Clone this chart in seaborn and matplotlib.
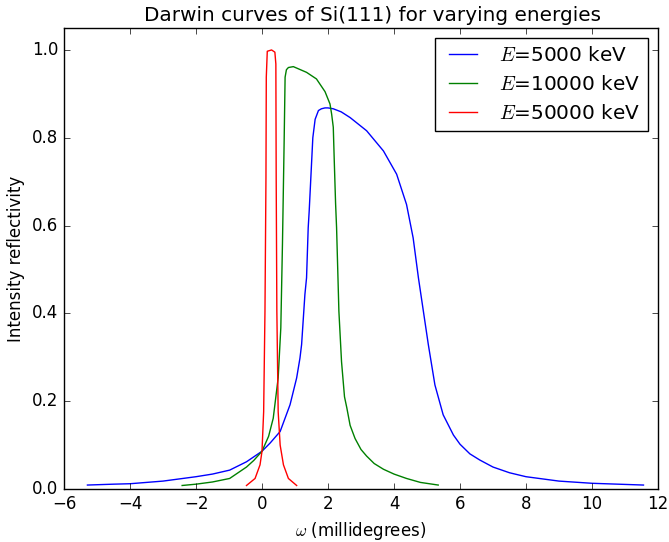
import matplotlib
matplotlib.use("Agg")
import matplotlib.pyplot as plt
import seaborn as sns
import pandas as pd

# E = 5000 keV
x_5000 = [-5.29, -4.5, -4.0, -3.0, -2.0, -1.5, -0.98, -0.47, 0.0, 0.25, 0.55, 0.85,
          1.05, 1.15, 1.2, 1.3, 1.35, 1.40, 1.43, 1.48, 1.54, 1.61, 1.71, 1.80, 1.91,
          2.0, 2.16, 2.4, 2.67, 3.17, 3.68, 4.08, 4.38, 4.58, 4.74, 4.89, 5.04, 5.24,
          5.49, 5.80, 6.0, 6.3, 6.6, 7.0, 7.5, 8.0, 9.0, 10.0, 11.56]
y_5000 = [0.009, 0.011, 0.012, 0.018, 0.028, 0.034, 0.043, 0.062, 0.086, 0.105, 0.131, 0.192,
          0.253, 0.298, 0.329, 0.443, 0.481, 0.595, 0.633, 0.709, 0.80, 0.842, 0.862, 0.866, 0.868,
          0.868, 0.866, 0.859, 0.846, 0.816, 0.77, 0.717, 0.648, 0.572, 0.481, 0.405, 0.329, 0.237,
          0.169, 0.123, 0.102, 0.08, 0.066, 0.05, 0.037, 0.028, 0.018, 0.013, 0.009]

# E = 10000 keV
x_10000 = [-2.42, -2.0, -1.5, -0.98, -0.47, -0.25, 0.0, 0.2, 0.34, 0.49, 0.57, 0.62, 0.67,
           0.70, 0.74, 0.80, 0.95, 1.35, 1.65, 1.91, 2.06, 2.11, 2.16, 2.19, 2.23, 2.26,
           2.33, 2.41, 2.50, 2.57, 2.67, 2.82, 3.0, 3.17, 3.4, 3.68, 4.0, 4.38, 4.8, 5.34]
y_10000 = [0.008, 0.011, 0.016, 0.024, 0.05, 0.065, 0.086, 0.12, 0.161, 0.253, 0.367, 0.558, 0.787,
           0.938, 0.955, 0.96, 0.962, 0.949, 0.934, 0.905, 0.877, 0.854, 0.824, 0.747, 0.65, 0.595,
           0.405, 0.29, 0.21, 0.185, 0.145, 0.115, 0.09, 0.075, 0.058, 0.045, 0.034, 0.024, 0.015, 0.009]

# E = 50000 keV
x_50000 = [-0.47, -0.21, -0.06, 0.0, 0.05, 0.09, 0.12, 0.13, 0.16, 0.29, 0.39, 0.42,
           0.43, 0.45, 0.49, 0.55, 0.65, 0.8, 1.05]
y_50000 = [0.008, 0.024, 0.055, 0.086, 0.176, 0.405, 0.709, 0.938, 0.997, 1.0, 0.995, 0.968,
           0.709, 0.405, 0.176, 0.1, 0.055, 0.024, 0.008]

labels = ["$E$=5000 keV", "$E$=10000 keV", "$E$=50000 keV"]
colors = ["b", "g", "r"]

plt.style.use("classic")
plt.rcParams["figure.facecolor"] = "white"
plt.rcParams["savefig.facecolor"] = "white"

fig = plt.figure(figsize=(6.69, 5.42), dpi=100)
ax = fig.add_axes([64 / 669, 1 - 489 / 542, (658 - 64) / 669, (489 - 28) / 542])

series = [(x_5000, y_5000), (x_10000, y_10000), (x_50000, y_50000)]
for (xs, ys), lab, col in zip(series, labels, colors):
    df = pd.DataFrame({"x": xs, "y": ys})
    sns.lineplot(data=df, x="x", y="y", ax=ax, color=col, label=lab,
                 estimator=None, sort=False, linewidth=1.0)

ax.set_xlim(-6, 12)
ax.set_ylim(0, 1.05)
ax.set_xticks(range(-6, 13, 2))
ax.set_yticks([0.0, 0.2, 0.4, 0.6, 0.8, 1.0])
ax.set_xlabel(r"$\omega$ (millidegrees)")
ax.set_ylabel("Intensity reflectivity")
ax.set_title("Darwin curves of Si(111) for varying energies", x=0.52)
ax.legend(loc="upper right")

fig.savefig("out.png", dpi=100)
